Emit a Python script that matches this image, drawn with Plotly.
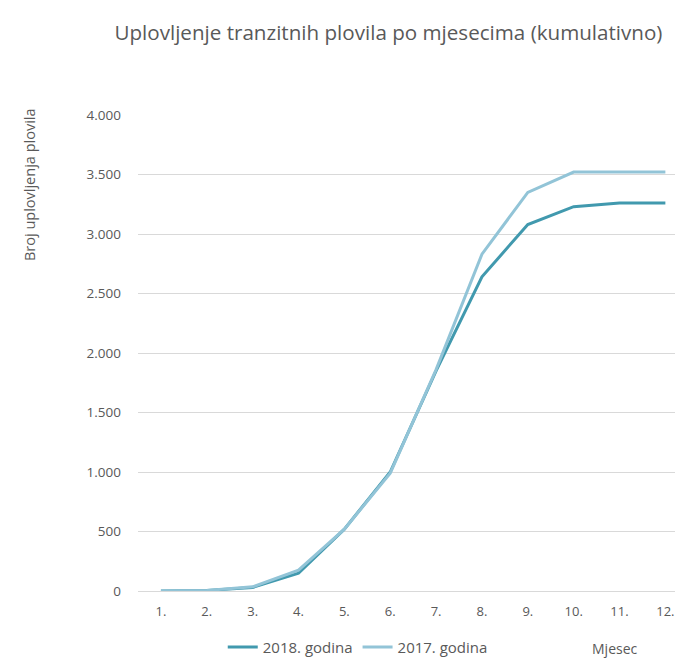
import plotly.graph_objects as go

months = ["1.", "2.", "3.", "4.", "5.", "6.", "7.", "8.", "9.", "10.", "11.", "12."]
god_2018 = [0, 5, 30, 150, 520, 1000, 1850, 2640, 3080, 3230, 3260, 3260]
god_2017 = [0, 5, 35, 175, 520, 990, 1860, 2830, 3350, 3520, 3520, 3520]

fig = go.Figure()
fig.add_trace(go.Scatter(x=months, y=god_2018, name="2018. godina", mode="lines",
                         line=dict(color="#4199ae", width=3), cliponaxis=False))
fig.add_trace(go.Scatter(x=months, y=god_2017, name="2017. godina", mode="lines",
                         line=dict(color="#92c4d7", width=3), cliponaxis=False))

fig.update_layout(
    width=675, height=659,
    margin=dict(l=138, r=0, t=115, b=68),
    paper_bgcolor="white", plot_bgcolor="white",
    font=dict(family="Open Sans", color="#595959", size=13),
    separators=",.",
    title=dict(text="Uplovljenje tranzitnih plovila po mjesecima (kumulativno)",
               x=0.5755, xanchor="center", y=0.95, yanchor="middle",
               font=dict(size=20.6, color="#595959")),
    # legend placed in container coords so it does not push the bottom margin
    legend=dict(orientation="h", xref="container", x=0.33, xanchor="left",
                yref="container", y=0.018, yanchor="middle",
                font=dict(size=15), itemwidth=30, bgcolor="rgba(0,0,0,0)"),
    showlegend=True,
)
fig.update_xaxes(type="category", range=[-0.5, 11.21], showgrid=False, showline=False,
                 zeroline=False, ticks="", ticklabelstandoff=11, tickfont=dict(size=13),
                 automargin=False)
fig.update_yaxes(range=[0, 4000], dtick=500, tickformat=",d", showgrid=True,
                 gridcolor="#d9d9d9", gridwidth=1, zeroline=True, zerolinecolor="#d9d9d9",
                 zerolinewidth=1, showline=False, ticks="", ticklabelstandoff=16,
                 tickfont=dict(size=13.5), automargin=False)

fig.add_annotation(text="Broj uplovljenja plovila", textangle=-90, xref="paper", yref="paper",
                   x=-0.201, y=0.853, xanchor="center", yanchor="middle", showarrow=False,
                   font=dict(size=14.5, color="#595959"))
fig.add_annotation(text="Mjesec", xref="paper", yref="paper", x=0.888, y=-0.12,
                   xanchor="center", yanchor="middle", showarrow=False,
                   font=dict(size=14, color="#595959"))

# drop the default 8px page margin so the figure fills the window
fig.write_html("out.html", config={"displayModeBar": False},
               post_script="document.body.style.margin='0';document.body.style.overflow='hidden';")
